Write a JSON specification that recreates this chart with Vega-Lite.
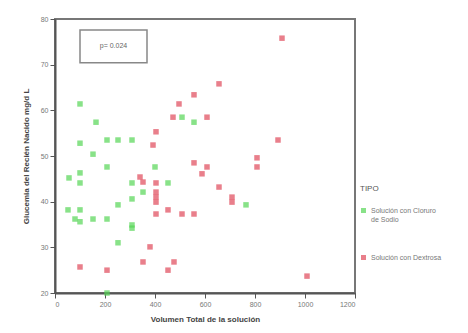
{
  "$schema": "https://vega.github.io/schema/vega-lite/v6.json",
  "autosize": "none",
  "width": 300,
  "height": 274,
  "padding": {"left": 55, "top": 19, "right": 113, "bottom": 40},
  "background": "white",
  "config": {
    "font": "Liberation Sans",
    "view": {"stroke": "#777777", "strokeWidth": 2},
    "axis": {"grid": false, "domainColor": "#555555", "domainWidth": 2, "tickColor": "#555555", "labelColor": "#777777", "labelFontSize": 7, "titleFontSize": 8, "titleColor": "#444444", "titleFontWeight": "bold"}
  },
  "datasets": {
    "pts": [
      {"vol": 100, "glu": 61.4, "tipo": "Solución con Cloruro de Sodio"},
      {"vol": 164, "glu": 57.4, "tipo": "Solución con Cloruro de Sodio"},
      {"vol": 100, "glu": 52.8, "tipo": "Solución con Cloruro de Sodio"},
      {"vol": 208, "glu": 53.5, "tipo": "Solución con Cloruro de Sodio"},
      {"vol": 252, "glu": 53.5, "tipo": "Solución con Cloruro de Sodio"},
      {"vol": 308, "glu": 53.5, "tipo": "Solución con Cloruro de Sodio"},
      {"vol": 152, "glu": 50.4, "tipo": "Solución con Cloruro de Sodio"},
      {"vol": 208, "glu": 47.6, "tipo": "Solución con Cloruro de Sodio"},
      {"vol": 400, "glu": 47.6, "tipo": "Solución con Cloruro de Sodio"},
      {"vol": 56, "glu": 45.2, "tipo": "Solución con Cloruro de Sodio"},
      {"vol": 100, "glu": 46.3, "tipo": "Solución con Cloruro de Sodio"},
      {"vol": 100, "glu": 44.1, "tipo": "Solución con Cloruro de Sodio"},
      {"vol": 308, "glu": 44.1, "tipo": "Solución con Cloruro de Sodio"},
      {"vol": 352, "glu": 42.1, "tipo": "Solución con Cloruro de Sodio"},
      {"vol": 308, "glu": 40.6, "tipo": "Solución con Cloruro de Sodio"},
      {"vol": 252, "glu": 39.3, "tipo": "Solución con Cloruro de Sodio"},
      {"vol": 52, "glu": 38.2, "tipo": "Solución con Cloruro de Sodio"},
      {"vol": 100, "glu": 38.2, "tipo": "Solución con Cloruro de Sodio"},
      {"vol": 80, "glu": 36.2, "tipo": "Solución con Cloruro de Sodio"},
      {"vol": 100, "glu": 35.6, "tipo": "Solución con Cloruro de Sodio"},
      {"vol": 152, "glu": 36.2, "tipo": "Solución con Cloruro de Sodio"},
      {"vol": 208, "glu": 36.2, "tipo": "Solución con Cloruro de Sodio"},
      {"vol": 308, "glu": 34.9, "tipo": "Solución con Cloruro de Sodio"},
      {"vol": 308, "glu": 34.2, "tipo": "Solución con Cloruro de Sodio"},
      {"vol": 252, "glu": 31.0, "tipo": "Solución con Cloruro de Sodio"},
      {"vol": 208, "glu": 20.0, "tipo": "Solución con Cloruro de Sodio"},
      {"vol": 508, "glu": 58.5, "tipo": "Solución con Cloruro de Sodio"},
      {"vol": 556, "glu": 57.4, "tipo": "Solución con Cloruro de Sodio"},
      {"vol": 452, "glu": 44.1, "tipo": "Solución con Cloruro de Sodio"},
      {"vol": 764, "glu": 39.3, "tipo": "Solución con Cloruro de Sodio"},
      {"vol": 908, "glu": 75.8, "tipo": "Solución con Dextrosa"},
      {"vol": 656, "glu": 65.8, "tipo": "Solución con Dextrosa"},
      {"vol": 556, "glu": 63.4, "tipo": "Solución con Dextrosa"},
      {"vol": 496, "glu": 61.4, "tipo": "Solución con Dextrosa"},
      {"vol": 472, "glu": 58.5, "tipo": "Solución con Dextrosa"},
      {"vol": 608, "glu": 58.5, "tipo": "Solución con Dextrosa"},
      {"vol": 404, "glu": 55.3, "tipo": "Solución con Dextrosa"},
      {"vol": 392, "glu": 52.4, "tipo": "Solución con Dextrosa"},
      {"vol": 892, "glu": 53.5, "tipo": "Solución con Dextrosa"},
      {"vol": 808, "glu": 49.6, "tipo": "Solución con Dextrosa"},
      {"vol": 808, "glu": 47.6, "tipo": "Solución con Dextrosa"},
      {"vol": 556, "glu": 48.5, "tipo": "Solución con Dextrosa"},
      {"vol": 608, "glu": 47.6, "tipo": "Solución con Dextrosa"},
      {"vol": 588, "glu": 46.1, "tipo": "Solución con Dextrosa"},
      {"vol": 340, "glu": 45.4, "tipo": "Solución con Dextrosa"},
      {"vol": 352, "glu": 44.3, "tipo": "Solución con Dextrosa"},
      {"vol": 404, "glu": 44.1, "tipo": "Solución con Dextrosa"},
      {"vol": 656, "glu": 43.2, "tipo": "Solución con Dextrosa"},
      {"vol": 404, "glu": 42.1, "tipo": "Solución con Dextrosa"},
      {"vol": 404, "glu": 41.0, "tipo": "Solución con Dextrosa"},
      {"vol": 404, "glu": 39.9, "tipo": "Solución con Dextrosa"},
      {"vol": 708, "glu": 41.0, "tipo": "Solución con Dextrosa"},
      {"vol": 708, "glu": 39.9, "tipo": "Solución con Dextrosa"},
      {"vol": 404, "glu": 37.3, "tipo": "Solución con Dextrosa"},
      {"vol": 452, "glu": 38.2, "tipo": "Solución con Dextrosa"},
      {"vol": 508, "glu": 37.3, "tipo": "Solución con Dextrosa"},
      {"vol": 556, "glu": 37.3, "tipo": "Solución con Dextrosa"},
      {"vol": 380, "glu": 30.1, "tipo": "Solución con Dextrosa"},
      {"vol": 352, "glu": 26.8, "tipo": "Solución con Dextrosa"},
      {"vol": 100, "glu": 25.7, "tipo": "Solución con Dextrosa"},
      {"vol": 208, "glu": 25.0, "tipo": "Solución con Dextrosa"},
      {"vol": 476, "glu": 26.8, "tipo": "Solución con Dextrosa"},
      {"vol": 452, "glu": 25.0, "tipo": "Solución con Dextrosa"},
      {"vol": 1008, "glu": 23.7, "tipo": "Solución con Dextrosa"}
    ],
    "note": [{"x1": 100, "x2": 368, "y1": 70.4, "y2": 77.6, "xt": 234, "yt": 74, "label": "p= 0.024"}]
  },
  "layer": [
    {
      "data": {"name": "note"},
      "mark": {"type": "rect", "fill": "white", "stroke": "#888888", "strokeWidth": 1.5},
      "encoding": {
        "x": {"field": "x1", "type": "quantitative", "scale": {"domain": [0, 1200]}},
        "x2": {"field": "x2"},
        "y": {"field": "y1", "type": "quantitative", "scale": {"domain": [20, 80]}},
        "y2": {"field": "y2"}
      }
    },
    {
      "data": {"name": "note"},
      "mark": {"type": "text", "fontSize": 7, "color": "#666666"},
      "encoding": {
        "x": {"field": "xt", "type": "quantitative"},
        "y": {"field": "yt", "type": "quantitative"},
        "text": {"field": "label"}
      }
    },
    {
      "data": {"name": "pts"},
      "mark": {"type": "point", "shape": "square", "filled": true, "size": 30, "opacity": 0.7, "strokeWidth": 0},
      "encoding": {
        "x": {"field": "vol", "type": "quantitative", "title": "Volumen Total de la solución",
              "scale": {"domain": [0, 1200], "nice": false},
              "axis": {"values": [0, 200, 400, 600, 800, 1000, 1200], "format": "d", "titlePadding": 8}},
        "y": {"field": "glu", "type": "quantitative", "title": "Glucemia del Recién Nacido mg/d L",
              "scale": {"domain": [20, 80], "nice": false, "zero": false},
              "axis": {"values": [20, 30, 40, 50, 60, 70, 80], "titlePadding": 10}},
        "color": {"field": "tipo", "type": "nominal", "title": "TIPO",
                  "scale": {"domain": ["Solución con Cloruro de Sodio", "Solución con Dextrosa"], "range": ["#55d655", "#e0485a"]},
                  "legend": {"orient": "none", "legendX": 305, "legendY": 166, "titleFontSize": 8, "titleFontWeight": "normal", "titleColor": "#555555", "titlePadding": 14,
                             "labelFontSize": 7, "labelColor": "#777777", "rowPadding": 30, "symbolSize": 25,
                             "labelExpr": "datum.label == 'Solución con Cloruro de Sodio' ? ['Solución con Cloruro', 'de Sodio'] : datum.label"}}
      }
    }
  ]
}
